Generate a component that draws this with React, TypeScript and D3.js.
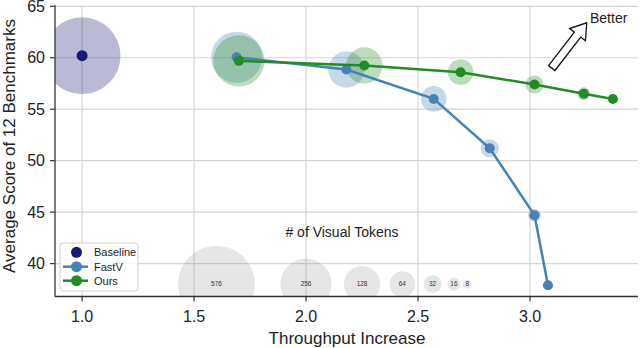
import React from "react";
import * as d3 from "d3";

// tokens kept per point
const tokens = [256, 128, 64, 32, 16, 8];

const baselineX = [1.0];
const baselineY = [60.2];
const baselineTokens = [576];

const fastvX = [1.69, 2.18, 2.57, 2.82, 3.02, 3.08];
const fastvY = [60.05, 58.85, 56.0, 51.2, 44.7, 37.9];

const oursX = [1.7, 2.26, 2.69, 3.02, 3.24, 3.37];
const oursY = [59.7, 59.25, 58.6, 57.4, 56.5, 56.0];

// size legend ("# of Visual Tokens")
const sizeLegendTokens = [576, 256, 128, 64, 32, 16, 8];
const sizeLegendX = [1.6, 2.0, 2.25, 2.43, 2.565, 2.66, 2.72];
const sizeLegendY = 38.0;

const xTicks = [1.0, 1.5, 2.0, 2.5, 3.0];
const yTicks = [40, 45, 50, 55, 60, 65];

// "Better" arrow, data coords
const arrowTail = [3.097, 59.0];
const arrowTip = [3.253, 63.4];

const W = 640;
const H = 348;
const FONT = "'Liberation Sans', Arial, Helvetica, sans-serif";

const NAVY = "#191970";
const BLUE = "#4682b4";
const GREEN = "#228b22";

export default function App() {
  const x = d3.scaleLinear().domain([0.879, 3.482]).range([55, 638]);
  const y = d3.scaleLinear().domain([36.8, 65]).range([296.5, 6.3]);
  const r = d3.scaleSqrt().domain([0, 576]).range([0, 38.4]);

  const line = d3
    .line<[number, number]>()
    .x((d) => x(d[0]))
    .y((d) => y(d[1]));

  const fastv = fastvX.map((v, i) => [v, fastvY[i]] as [number, number]);
  const ours = oursX.map((v, i) => [v, oursY[i]] as [number, number]);

  const [x0, x1] = x.range();
  const [y0, y1] = y.range();

  // hollow arrow polygon
  const tx = x(arrowTail[0]);
  const ty = y(arrowTail[1]);
  const hx = x(arrowTip[0]);
  const hy = y(arrowTip[1]);
  const len = Math.hypot(hx - tx, hy - ty);
  const ux = (hx - tx) / len;
  const uy = (hy - ty) / len;
  const nx = -uy;
  const ny = ux;
  const headLen = 15;
  const sw = 4;
  const hw = 10;
  const bx = hx - ux * headLen;
  const by = hy - uy * headLen;
  const arrowPts = [
    [tx + nx * sw, ty + ny * sw],
    [bx + nx * sw, by + ny * sw],
    [bx + nx * hw, by + ny * hw],
    [hx, hy],
    [bx - nx * hw, by - ny * hw],
    [bx - nx * sw, by - ny * sw],
    [tx - nx * sw, ty - ny * sw],
  ]
    .map((p) => p.join(","))
    .join(" ");

  return (
    <svg
      width={W}
      height={H}
      style={{ position: "absolute", left: 0, top: 0, background: "#fff" }}
      fontFamily={FONT}
    >
      <defs>
        <clipPath id="plot">
          <rect x={x0} y={y1} width={x1 - x0} height={y0 - y1} />
        </clipPath>
      </defs>

      {/* grid */}
      {xTicks.map((t) => (
        <line key={"gx" + t} x1={x(t)} x2={x(t)} y1={y1} y2={y0} stroke="#d6d6d6" strokeWidth={1.2} />
      ))}
      {yTicks.map((t) => (
        <line key={"gy" + t} x1={x0} x2={x1} y1={y(t)} y2={y(t)} stroke="#d6d6d6" strokeWidth={1.2} />
      ))}

      <g clipPath="url(#plot)">
        {/* size legend bubbles */}
        {sizeLegendTokens.map((t, i) => (
          <g key={"sl" + t}>
            <circle cx={x(sizeLegendX[i])} cy={y(sizeLegendY)} r={r(t)} fill="#808080" fillOpacity={0.2} />
            <text
              x={x(sizeLegendX[i])}
              y={y(sizeLegendY)}
              dy="0.35em"
              textAnchor="middle"
              fontSize={6.5}
              fill="#333"
            >
              {t}
            </text>
          </g>
        ))}

        {/* halos */}
        {baselineX.map((v, i) => (
          <circle key={"bh" + i} cx={x(v)} cy={y(baselineY[i])} r={r(baselineTokens[i])} fill={NAVY} fillOpacity={0.3} />
        ))}
        {fastv.map((d, i) => (
          <circle key={"fh" + i} cx={x(d[0])} cy={y(d[1])} r={r(tokens[i])} fill={BLUE} fillOpacity={0.3} />
        ))}
        {ours.map((d, i) => (
          <circle key={"oh" + i} cx={x(d[0])} cy={y(d[1])} r={r(tokens[i])} fill={GREEN} fillOpacity={0.3} />
        ))}

        {/* lines + markers */}
        <path d={line(fastv) ?? ""} fill="none" stroke={BLUE} strokeWidth={2.5} />
        {fastv.map((d, i) => (
          <circle key={"fm" + i} cx={x(d[0])} cy={y(d[1])} r={5} fill={BLUE} />
        ))}
        <path d={line(ours) ?? ""} fill="none" stroke={GREEN} strokeWidth={2.5} />
        {ours.map((d, i) => (
          <circle key={"om" + i} cx={x(d[0])} cy={y(d[1])} r={5} fill={GREEN} />
        ))}
        {baselineX.map((v, i) => (
          <circle key={"bm" + i} cx={x(v)} cy={y(baselineY[i])} r={5.5} fill={NAVY} />
        ))}
      </g>

      <text x={342} y={232} dy="0.35em" textAnchor="middle" fontSize={14} fill="#222">
        # of Visual Tokens
      </text>

      {/* spines + ticks */}
      <line x1={x0} x2={x0} y1={y1 - 1} y2={y0} stroke="#333" strokeWidth={1.3} />
      <line x1={x0} x2={x1} y1={y0} y2={y0} stroke="#333" strokeWidth={1.3} />
      {xTicks.map((t) => (
        <g key={"xt" + t}>
          <line x1={x(t)} x2={x(t)} y1={y0} y2={y0 + 5} stroke="#333" strokeWidth={1.2} />
          <text x={x(t)} y={y0 + 25} textAnchor="middle" fontSize={16} fill="#222">
            {t.toFixed(1)}
          </text>
        </g>
      ))}
      {yTicks.map((t) => (
        <g key={"yt" + t}>
          <line x1={x0 - 5} x2={x0} y1={y(t)} y2={y(t)} stroke="#333" strokeWidth={1.2} />
          <text x={x0 - 10} y={y(t)} dy="0.34em" textAnchor="end" fontSize={16} fill="#222">
            {t}
          </text>
        </g>
      ))}

      <text x={347} y={343.5} textAnchor="middle" fontSize={17} fill="#222">
        Throughput Increase
      </text>
      <text
        transform={`translate(14.5,146) rotate(-90)`}
        textAnchor="middle"
        fontSize={17}
        fill="#222"
      >
        Average Score of 12 Benchmarks
      </text>

      {/* legend */}
      <g>
        <rect x={60} y={243} width={78} height={48} rx={3} fill="#fff" fillOpacity={0.85} stroke="#d0d0d0" />
        <circle cx={76.5} cy={252.3} r={5.5} fill={NAVY} />
        <text x={94} y={252.3} dy="0.35em" fontSize={11} fill="#222">Baseline</text>
        <line x1={63} x2={88} y1={266.7} y2={266.7} stroke={BLUE} strokeWidth={2.5} />
        <circle cx={76.5} cy={266.7} r={5.5} fill={BLUE} />
        <text x={94} y={266.7} dy="0.35em" fontSize={11} fill="#222">FastV</text>
        <line x1={63} x2={88} y1={280.7} y2={280.7} stroke={GREEN} strokeWidth={2.5} />
        <circle cx={76.5} cy={280.7} r={5.5} fill={GREEN} />
        <text x={94} y={280.7} dy="0.35em" fontSize={11} fill="#222">Ours</text>
      </g>

      {/* Better arrow */}
      <polygon points={arrowPts} fill="#fff" stroke="#111" strokeWidth={1.3} strokeLinejoin="miter" />
      <text x={590} y={18.5} dy="0.35em" fontSize={14} fill="#222">
        Better
      </text>
    </svg>
  );
}
